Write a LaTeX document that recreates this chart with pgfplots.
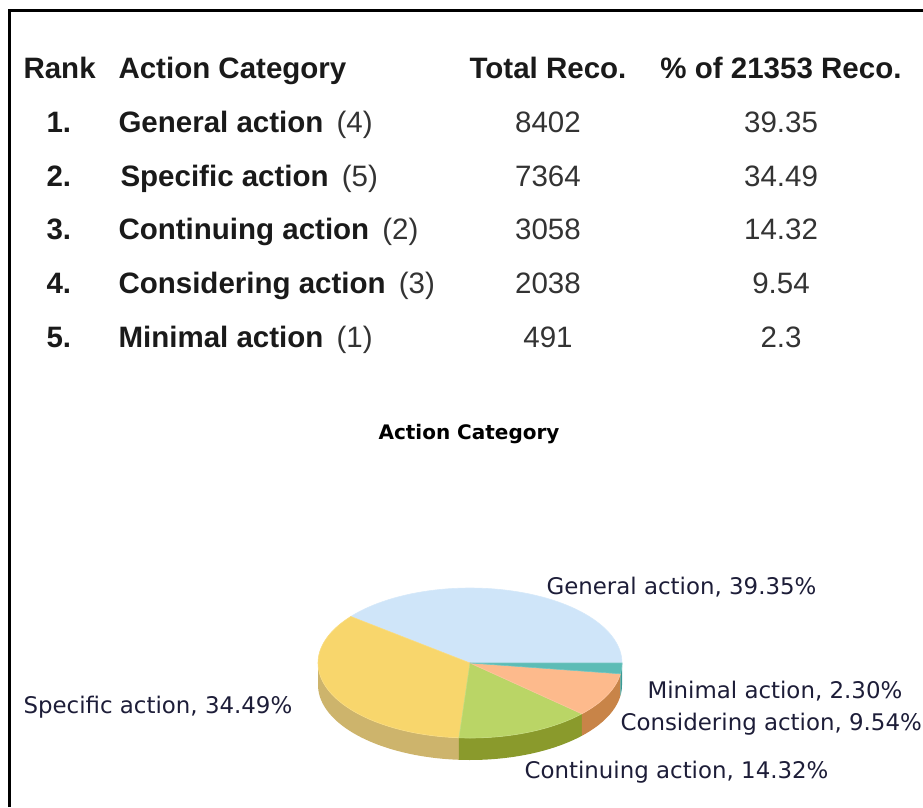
\documentclass[border=0pt]{standalone}
\usepackage{pgfplots}
\pgfplotsset{compat=1.18}
\usepgfplotslibrary{fillbetween}
\usepackage{fontspec}
\setmainfont{Liberation Sans}
\newfontfamily\dv{DejaVu Sans}
\definecolor{cGen}{HTML}{CFE5F9}
\definecolor{cSpe}{HTML}{F8D66C}
\definecolor{cCon}{HTML}{BAD566}
\definecolor{cCns}{HTML}{FDBA8C}
\definecolor{cMin}{HTML}{5CBCB6}
\definecolor{sSpe}{HTML}{CDB46C}
\definecolor{sCon}{HTML}{8A9A2C}
\definecolor{sCns}{HTML}{C88448}
\definecolor{sMin}{HTML}{3A9A95}
\definecolor{txt}{HTML}{1A1A1A}
\definecolor{num}{HTML}{333333}
\definecolor{lab}{HTML}{1D1D38}
% shares of the 21353 recommendations (percent)
\def\pGen{39.35}\def\pSpe{34.49}\def\pCon{14.32}\def\pCns{9.54}\def\pMin{2.30}
\pgfmathsetmacro\tA{0}
\pgfmathsetmacro\tB{\tA+3.6*\pGen}
\pgfmathsetmacro\tC{\tB+3.6*\pSpe}
\pgfmathsetmacro\tD{\tC+3.6*\pCon}
\pgfmathsetmacro\tE{\tD+3.6*\pCns}
\pgfmathsetmacro\tF{\tE+3.6*\pMin}
\newcommand\pieside[4]{%
 \addplot[draw=none, forget plot, name path=#1a, domain=#2:#3, samples=40] ({470+152*cos(x)},{663-75*sin(x)});
 \addplot[draw=none, forget plot, name path=#1b, domain=#2:#3, samples=40] ({470+152*cos(x)},{685-75*sin(x)});
 \addplot[fill=#4, draw=none, forget plot] fill between[of=#1a and #1b];
}
\newcommand\pietop[3]{%
 \addplot[fill=#3, draw=#3!85!white, line width=0.6pt, forget plot, domain=#1:#2, samples=60] ({470+152*cos(x)},{663-75*sin(x)}) -- (axis cs:470,663) -- cycle;
}
\newcommand\hd{\fontsize{29.5}{35}\selectfont\bfseries\color{txt}}
\newcommand\rw{\fontsize{29.5}{35}\selectfont\color{num}}
\newcommand\pl{\fontsize{22.9}{27}\dv\color{lab}}
\begin{document}
\begin{tikzpicture}
\begin{axis}[name=ax, scale only axis, width=923pt, height=807pt,
  xmin=0, xmax=923, ymin=0, ymax=807, y dir=reverse,
  hide axis, clip=false, every node/.append style={inner sep=0pt}]
% frame
\addplot[black, line width=3pt, forget plot] coordinates {(9.5,807) (9.5,11) (923,11)};
% table
\node[anchor=base west, font=\hd] at (axis cs:20,79) {Rank};
\node[anchor=base west, font=\hd] at (axis cs:115,79) {Action Category};
\node[anchor=base, font=\hd] at (axis cs:548,79) {Total Reco.};
\node[anchor=base, font=\hd] at (axis cs:781,79) {\% of 21353 Reco.};
\node[anchor=base west, font=\hd] at (axis cs:43,133) {1.};
\node[anchor=base west, font=\hd] at (axis cs:43,187) {2.};
\node[anchor=base west, font=\hd] at (axis cs:43,240) {3.};
\node[anchor=base west, font=\hd] at (axis cs:43,294) {4.};
\node[anchor=base west, font=\hd] at (axis cs:43,347) {5.};
\node[anchor=base west, font=\hd] at (axis cs:115,133) {General action {\mdseries\color{num}\,(4)}};
\node[anchor=base west, font=\hd] at (axis cs:117,187) {Specific action {\mdseries\color{num}\,(5)}};
\node[anchor=base west, font=\hd] at (axis cs:115,240) {Continuing action {\mdseries\color{num}\,(2)}};
\node[anchor=base west, font=\hd] at (axis cs:115,294) {Considering action {\mdseries\color{num}\,(3)}};
\node[anchor=base west, font=\hd] at (axis cs:115,347) {Minimal action {\mdseries\color{num}\,(1)}};
\node[anchor=base, font=\rw] at (axis cs:548,133) {8402};
\node[anchor=base, font=\rw] at (axis cs:548,187) {7364};
\node[anchor=base, font=\rw] at (axis cs:548,240) {3058};
\node[anchor=base, font=\rw] at (axis cs:548,294) {2038};
\node[anchor=base, font=\rw] at (axis cs:548,347) {491};
\node[anchor=base, font=\rw] at (axis cs:781,133) {39.35};
\node[anchor=base, font=\rw] at (axis cs:781,187) {34.49};
\node[anchor=base, font=\rw] at (axis cs:781,240) {14.32};
\node[anchor=base, font=\rw] at (axis cs:781,294) {9.54};
\node[anchor=base, font=\rw] at (axis cs:781,347) {2.3};
% pie title
\node[anchor=base, font={\fontsize{20}{24}\dv\bfseries\color{black}}] at (axis cs:469,439) {Action Category};
% pie sides (front half only)
\pieside{s1}{180}{\tC}{sSpe}
\pieside{s2}{\tC}{\tD}{sCon}
\pieside{s3}{\tD}{\tE}{sCns}
\pieside{s4}{\tE}{\tF}{sMin}
% pie tops
\pietop{\tA}{\tB}{cGen}
\pietop{\tB}{\tC}{cSpe}
\pietop{\tC}{\tD}{cCon}
\pietop{\tD}{\tE}{cCns}
\pietop{\tE}{\tF}{cMin}
% pie labels
\node[anchor=base west, font=\pl] at (axis cs:543,594) {General action, 39.35\%};
\node[anchor=base west, font=\pl] at (axis cs:644,698) {Minimal action, 2.30\%};
\node[anchor=base west, font=\pl] at (axis cs:617,730) {Considering action, 9.54\%};
\node[anchor=base west, font=\pl] at (axis cs:521,778) {Continuing action, 14.32\%};
\node[anchor=base west, font=\pl] at (axis cs:20,713) {Specific action, 34.49\%};
\end{axis}
\pgfresetboundingbox
\path[use as bounding box] (ax.south west) rectangle (ax.north east);
\end{tikzpicture}
\end{document}
